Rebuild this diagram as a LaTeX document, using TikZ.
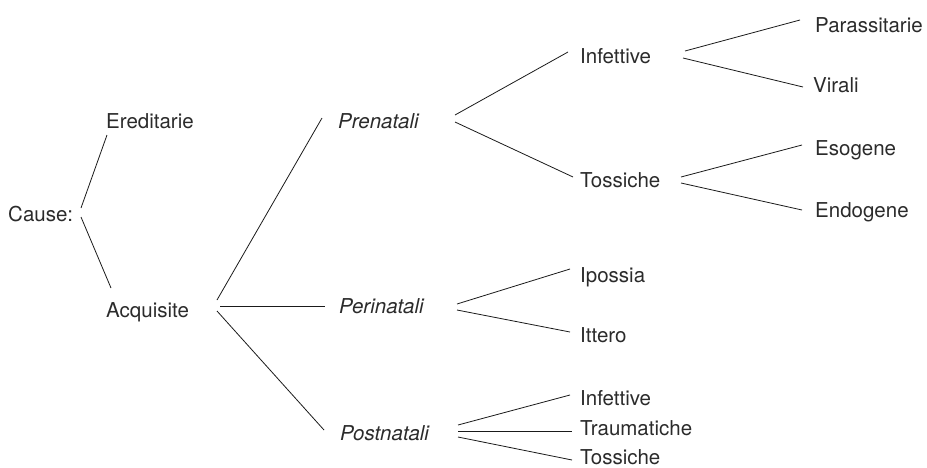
\documentclass[tikz,border=0pt]{standalone}
\usepackage{fontspec}
\setmainfont{TeX Gyre Heros}
\definecolor{txt}{HTML}{2B2B2B}
\definecolor{ln}{HTML}{1A1A1A}
\begin{document}
\begin{tikzpicture}[x=1pt,y=-1pt,
  lbl/.style={inner sep=0pt,anchor=base west,text=txt,font=\fontsize{20.5pt}{24pt}\selectfont},
  ilbl/.style={lbl,font=\fontsize{20.5pt}{24pt}\selectfont\itshape},
  conn/.style={draw=ln,line width=0.8pt}]
\useasboundingbox (0,0) rectangle (927,467);
\node[lbl] (cause) at (8,221) {Cause:};
\node[lbl] (ered) at (106,128) {Ereditarie};
\node[lbl] (acq) at (106,317) {Acquisite};
\node[ilbl] (pren) at (338,128) {Prenatali};
\node[ilbl] (peri) at (339,313) {Perinatali};
\node[ilbl] (post) at (340,440) {Postnatali};
\node[lbl] (inf1) at (580,63) {Infettive};
\node[lbl] (toss1) at (580,187) {Tossiche};
\node[lbl] (para) at (815,32) {Parassitarie};
\node[lbl] (vira) at (813,92) {Virali};
\node[lbl] (esog) at (815,155) {Esogene};
\node[lbl] (endo) at (815,217) {Endogene};
\node[lbl] (ipos) at (580,282) {Ipossia};
\node[lbl] (itte) at (580,342) {Ittero};
\node[lbl] (inf2) at (580,405) {Infettive};
\node[lbl] (trau) at (580,435) {Traumatiche};
\node[lbl] (toss2) at (580,464) {Tossiche};

\draw[conn] ([shift={(73,-13)}]cause.base west) -- ([shift={(1,7)}]ered.base west);
\draw[conn] ([shift={(73,-4)}]cause.base west) -- ([shift={(5,-29)}]acq.base west);
\draw[conn] ([shift={(111,-17)}]acq.base west) -- ([shift={(-16,-10)}]pren.base west);
\draw[conn] ([shift={(114,-11)}]acq.base west) -- ([shift={(-14,-7)}]peri.base west);
\draw[conn] ([shift={(111,-6)}]acq.base west) -- ([shift={(-16,-10)}]post.base west);
\draw[conn] ([shift={(117,-13)}]pren.base west) -- ([shift={(-12,-11)}]inf1.base west);
\draw[conn] ([shift={(117,-6)}]pren.base west) -- ([shift={(-7,-10)}]toss1.base west);
\draw[conn] ([shift={(105,-12)}]inf1.base west) -- ([shift={(-15,-12)}]para.base west);
\draw[conn] ([shift={(103,-5)}]inf1.base west) -- ([shift={(-10,-5)}]vira.base west);
\draw[conn] ([shift={(101,-10)}]toss1.base west) -- ([shift={(-13,-10)}]esog.base west);
\draw[conn] ([shift={(101,-4)}]toss1.base west) -- ([shift={(-13,-7)}]endo.base west);
\draw[conn] ([shift={(118,-9)}]peri.base west) -- ([shift={(-10,-13)}]ipos.base west);
\draw[conn] ([shift={(118,-3)}]peri.base west) -- ([shift={(-10,-10)}]itte.base west);
\draw[conn] ([shift={(118,-15)}]post.base west) -- ([shift={(-10,-10)}]inf2.base west);
\draw[conn] ([shift={(118,-9)}]post.base west) -- ([shift={(-8,-4)}]trau.base west);
\draw[conn] ([shift={(118,-3)}]post.base west) -- ([shift={(-8,-4)}]toss2.base west);
\end{tikzpicture}
\end{document}
